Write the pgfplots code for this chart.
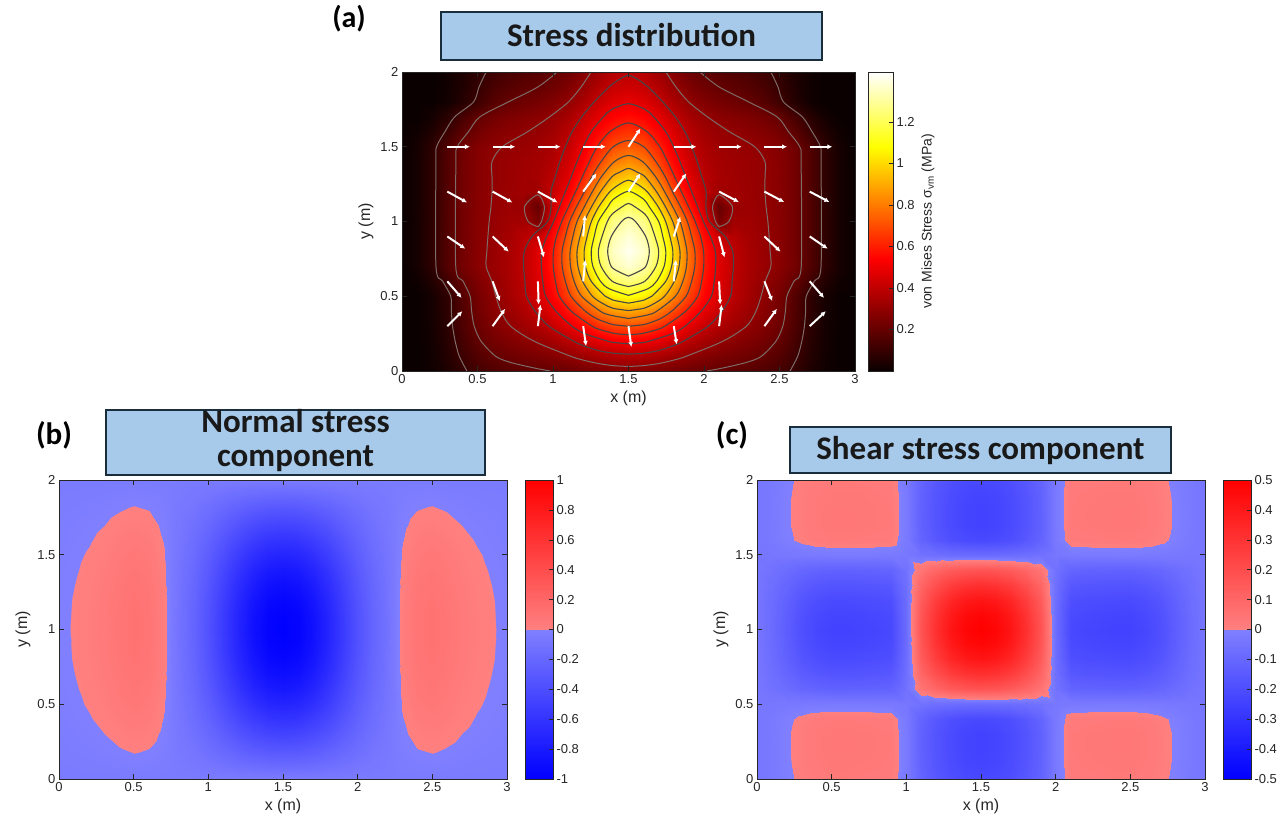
\documentclass[border=0pt]{standalone}
\usepackage{pgfplots}
\pgfplotsset{compat=1.18}
\usepackage{pgfplotstable}
\usepackage{fontspec}
\setmainfont{Liberation Sans}
\newfontfamily\titlefont{Carlito}
\usetikzlibrary{arrows.meta}
\definecolor{titlebg}{RGB}{167,201,234}
\definecolor{titleframe}{RGB}{25,45,60}
\definecolor{axgray}{RGB}{38,38,38}
\definecolor{cline}{RGB}{70,70,70}
\definecolor{clineo}{RGB}{125,108,104}
\pgfkeys{/pgf/number format/assume math mode=true}
\pgfplotsset{
 colormap={hotm}{rgb255(0cm)=(10,0,0) rgb255(3cm)=(255,0,0) rgb255(6cm)=(255,255,0) rgb255(8cm)=(255,255,255)},
 colormap={bwsplit}{rgb255(0cm)=(0,0,255) rgb255(10cm)=(128,128,255) rgb255(10.01cm)=(255,128,128) rgb255(20cm)=(255,0,0)},
 panel/.style={scale only axis, width=448pt, height=299pt, xmin=0,xmax=3,ymin=0,ymax=2, enlargelimits=false,
   xtick={0,0.5,1,1.5,2,2.5,3}, ytick={0,0.5,1,1.5,2}, tick align=inside, major tick length=5pt,
   axis line style={draw=axgray, line width=0.8pt}, every tick/.style={draw=axgray, line width=0.8pt},
   tick label style={font=\fontsize{13}{15}\selectfont, text=axgray},
   label style={font=\fontsize{16}{18}\selectfont, text=axgray},
   xlabel={x (m)}, ylabel={y (m)}, axis on top},
 cbax/.style={scale only axis, enlargelimits=false, xmin=0, xmax=1, xtick=\empty, height=299pt,
   ytick pos=right, yticklabel pos=right, tick align=inside, major tick length=4pt,
   axis line style={draw=axgray, line width=0.8pt}, every tick/.style={draw=axgray, line width=0.6pt},
   tick label style={font=\fontsize{13}{15}\selectfont, text=axgray},
   label style={font=\fontsize{14}{16}\selectfont, text=axgray}, axis on top, anchor=south west},
 surfstyle/.style={surf, shader=interp, mesh/rows=21, mesh/cols=31, point meta=explicit},
 cbsurf/.style={surf, shader=interp, mesh/rows=2, mesh/cols=2, point meta=explicit},
 cl/.style={draw=cline, line width=1.1pt, smooth, tension=0.5},
 clo/.style={draw=clineo, line width=1pt, smooth, tension=0.5},
}

\pgfplotstableread[row sep=\\]{x y z\\
0 0 0\\0.1 0 0\\0.2 0 0.014\\0.3 0 0.044\\0.4 0 0.088\\0.5 0 0.128\\0.6 0 0.153\\0.7 0 0.169\\0.8 0 0.180\\0.9 0 0.191\\1 0 0.202\\1.1 0 0.216\\1.2 0 0.232\\1.3 0 0.248\\1.4 0 0.259\\1.5 0 0.263\\1.6 0 0.259\\1.7 0 0.248\\1.8 0 0.232\\1.9 0 0.216\\2 0 0.202\\2.1 0 0.191\\2.2 0 0.180\\2.3 0 0.169\\2.4 0 0.153\\2.5 0 0.128\\2.6 0 0.088\\2.7 0 0.044\\2.8 0 0.014\\2.9 0 0\\3 0 0\\
0 0.1 0\\0.1 0.1 0\\0.2 0.1 0.018\\0.3 0.1 0.056\\0.4 0.1 0.112\\0.5 0.1 0.162\\0.6 0.1 0.196\\0.7 0.1 0.218\\0.8 0.1 0.234\\0.9 0.1 0.251\\1 0.1 0.270\\1.1 0.1 0.296\\1.2 0.1 0.325\\1.3 0.1 0.353\\1.4 0.1 0.373\\1.5 0.1 0.381\\1.6 0.1 0.373\\1.7 0.1 0.353\\1.8 0.1 0.325\\1.9 0.1 0.296\\2 0.1 0.270\\2.1 0.1 0.251\\2.2 0.1 0.234\\2.3 0.1 0.218\\2.4 0.1 0.196\\2.5 0.1 0.162\\2.6 0.1 0.112\\2.7 0.1 0.056\\2.8 0.1 0.018\\2.9 0.1 0\\3 0.1 0\\
0 0.2 0\\0.1 0.2 0\\0.2 0.2 0.021\\0.3 0.2 0.066\\0.4 0.2 0.132\\0.5 0.2 0.191\\0.6 0.2 0.230\\0.7 0.2 0.258\\0.8 0.2 0.281\\0.9 0.2 0.307\\1 0.2 0.340\\1.1 0.2 0.383\\1.2 0.2 0.432\\1.3 0.2 0.479\\1.4 0.2 0.513\\1.5 0.2 0.526\\1.6 0.2 0.513\\1.7 0.2 0.479\\1.8 0.2 0.432\\1.9 0.2 0.383\\2 0.2 0.340\\2.1 0.2 0.307\\2.2 0.2 0.281\\2.3 0.2 0.258\\2.4 0.2 0.230\\2.5 0.2 0.191\\2.6 0.2 0.132\\2.7 0.2 0.066\\2.8 0.2 0.021\\2.9 0.2 0\\3 0.2 0\\
0 0.3 0\\0.1 0.3 0\\0.2 0.3 0.024\\0.3 0.3 0.074\\0.4 0.3 0.148\\0.5 0.3 0.215\\0.6 0.3 0.261\\0.7 0.3 0.294\\0.8 0.3 0.325\\0.9 0.3 0.364\\1 0.3 0.414\\1.1 0.3 0.481\\1.2 0.3 0.557\\1.3 0.3 0.630\\1.4 0.3 0.682\\1.5 0.3 0.702\\1.6 0.3 0.682\\1.7 0.3 0.630\\1.8 0.3 0.557\\1.9 0.3 0.481\\2 0.3 0.414\\2.1 0.3 0.364\\2.2 0.3 0.325\\2.3 0.3 0.294\\2.4 0.3 0.261\\2.5 0.3 0.215\\2.6 0.3 0.148\\2.7 0.3 0.074\\2.8 0.3 0.024\\2.9 0.3 0\\3 0.3 0\\
0 0.4 0\\0.1 0.4 0\\0.2 0.4 0.025\\0.3 0.4 0.079\\0.4 0.4 0.157\\0.5 0.4 0.227\\0.6 0.4 0.278\\0.7 0.4 0.317\\0.8 0.4 0.357\\0.9 0.4 0.410\\1 0.4 0.482\\1.1 0.4 0.577\\1.2 0.4 0.685\\1.3 0.4 0.790\\1.4 0.4 0.865\\1.5 0.4 0.893\\1.6 0.4 0.865\\1.7 0.4 0.790\\1.8 0.4 0.685\\1.9 0.4 0.577\\2 0.4 0.482\\2.1 0.4 0.410\\2.2 0.4 0.357\\2.3 0.4 0.317\\2.4 0.4 0.278\\2.5 0.4 0.227\\2.6 0.4 0.157\\2.7 0.4 0.079\\2.8 0.4 0.025\\2.9 0.4 0\\3 0.4 0\\
0 0.5 0\\0.1 0.5 0\\0.2 0.5 0.026\\0.3 0.5 0.081\\0.4 0.5 0.162\\0.5 0.5 0.236\\0.6 0.5 0.290\\0.7 0.5 0.335\\0.8 0.5 0.384\\0.9 0.5 0.452\\1 0.5 0.547\\1.1 0.5 0.673\\1.2 0.5 0.816\\1.3 0.5 0.954\\1.4 0.5 1.053\\1.5 0.5 1.090\\1.6 0.5 1.053\\1.7 0.5 0.954\\1.8 0.5 0.816\\1.9 0.5 0.673\\2 0.5 0.547\\2.1 0.5 0.452\\2.2 0.5 0.384\\2.3 0.5 0.335\\2.4 0.5 0.290\\2.5 0.5 0.236\\2.6 0.5 0.162\\2.7 0.5 0.081\\2.8 0.5 0.026\\2.9 0.5 0\\3 0.5 0\\
0 0.6 0\\0.1 0.6 0.013\\0.2 0.6 0.053\\0.3 0.6 0.120\\0.4 0.6 0.197\\0.5 0.6 0.258\\0.6 0.6 0.302\\0.7 0.6 0.341\\0.8 0.6 0.390\\0.9 0.6 0.464\\1 0.6 0.575\\1.1 0.6 0.728\\1.2 0.6 0.907\\1.3 0.6 1.082\\1.4 0.6 1.210\\1.5 0.6 1.258\\1.6 0.6 1.210\\1.7 0.6 1.082\\1.8 0.6 0.907\\1.9 0.6 0.728\\2 0.6 0.575\\2.1 0.6 0.464\\2.2 0.6 0.390\\2.3 0.6 0.341\\2.4 0.6 0.302\\2.5 0.6 0.258\\2.6 0.6 0.197\\2.7 0.6 0.120\\2.8 0.6 0.053\\2.9 0.6 0.013\\3 0.6 0\\
0 0.7 0\\0.1 0.7 0.026\\0.2 0.7 0.080\\0.3 0.7 0.160\\0.4 0.7 0.232\\0.5 0.7 0.280\\0.6 0.7 0.315\\0.7 0.7 0.348\\0.8 0.7 0.396\\0.9 0.7 0.472\\1 0.7 0.596\\1.1 0.7 0.767\\1.2 0.7 0.972\\1.3 0.7 1.173\\1.4 0.7 1.322\\1.5 0.7 1.377\\1.6 0.7 1.322\\1.7 0.7 1.173\\1.8 0.7 0.972\\1.9 0.7 0.767\\2 0.7 0.596\\2.1 0.7 0.472\\2.2 0.7 0.396\\2.3 0.7 0.348\\2.4 0.7 0.315\\2.5 0.7 0.280\\2.6 0.7 0.232\\2.7 0.7 0.160\\2.8 0.7 0.080\\2.9 0.7 0.026\\3 0.7 0\\
0 0.8 0\\0.1 0.8 0.026\\0.2 0.8 0.080\\0.3 0.8 0.160\\0.4 0.8 0.231\\0.5 0.8 0.279\\0.6 0.8 0.313\\0.7 0.8 0.345\\0.8 0.8 0.392\\0.9 0.8 0.469\\1 0.8 0.594\\1.1 0.8 0.772\\1.2 0.8 0.988\\1.3 0.8 1.201\\1.4 0.8 1.361\\1.5 0.8 1.420\\1.6 0.8 1.361\\1.7 0.8 1.201\\1.8 0.8 0.988\\1.9 0.8 0.772\\2 0.8 0.594\\2.1 0.8 0.469\\2.2 0.8 0.392\\2.3 0.8 0.345\\2.4 0.8 0.313\\2.5 0.8 0.279\\2.6 0.8 0.231\\2.7 0.8 0.160\\2.8 0.8 0.080\\2.9 0.8 0.026\\3 0.8 0\\
0 0.9 0\\0.1 0.9 0.026\\0.2 0.9 0.080\\0.3 0.9 0.160\\0.4 0.9 0.230\\0.5 0.9 0.278\\0.6 0.9 0.310\\0.7 0.9 0.338\\0.8 0.9 0.378\\0.9 0.9 0.415\\1 0.9 0.561\\1.1 0.9 0.731\\1.2 0.9 0.944\\1.3 0.9 1.159\\1.4 0.9 1.323\\1.5 0.9 1.385\\1.6 0.9 1.323\\1.7 0.9 1.159\\1.8 0.9 0.944\\1.9 0.9 0.731\\2 0.9 0.561\\2.1 0.9 0.415\\2.2 0.9 0.378\\2.3 0.9 0.338\\2.4 0.9 0.310\\2.5 0.9 0.278\\2.6 0.9 0.230\\2.7 0.9 0.160\\2.8 0.9 0.080\\2.9 0.9 0.026\\3 0.9 0\\
0 1 0\\0.1 1 0.026\\0.2 1 0.080\\0.3 1 0.160\\0.4 1 0.230\\0.5 1 0.277\\0.6 1 0.307\\0.7 1 0.330\\0.8 1 0.333\\0.9 1 0.239\\1 1 0.492\\1.1 1 0.679\\1.2 1 0.884\\1.3 1 1.100\\1.4 1 1.266\\1.5 1 1.329\\1.6 1 1.266\\1.7 1 1.100\\1.8 1 0.884\\1.9 1 0.679\\2 1 0.492\\2.1 1 0.239\\2.2 1 0.333\\2.3 1 0.330\\2.4 1 0.307\\2.5 1 0.277\\2.6 1 0.230\\2.7 1 0.160\\2.8 1 0.080\\2.9 1 0.026\\3 1 0\\
0 1.1 0\\0.1 1.1 0.026\\0.2 1.1 0.080\\0.3 1.1 0.160\\0.4 1.1 0.230\\0.5 1.1 0.275\\0.6 1.1 0.303\\0.7 1.1 0.322\\0.8 1.1 0.314\\0.9 1.1 0.202\\1 1.1 0.430\\1.1 1.1 0.594\\1.2 1.1 0.783\\1.3 1.1 0.993\\1.4 1.1 1.161\\1.5 1.1 1.226\\1.6 1.1 1.161\\1.7 1.1 0.993\\1.8 1.1 0.783\\1.9 1.1 0.594\\2 1.1 0.430\\2.1 1.1 0.202\\2.2 1.1 0.314\\2.3 1.1 0.322\\2.4 1.1 0.303\\2.5 1.1 0.275\\2.6 1.1 0.230\\2.7 1.1 0.160\\2.8 1.1 0.080\\2.9 1.1 0.026\\3 1.1 0\\
0 1.2 0\\0.1 1.2 0.026\\0.2 1.2 0.080\\0.3 1.2 0.160\\0.4 1.2 0.230\\0.5 1.2 0.275\\0.6 1.2 0.301\\0.7 1.2 0.318\\0.8 1.2 0.332\\0.9 1.2 0.326\\1 1.2 0.412\\1.1 1.2 0.519\\1.2 1.2 0.682\\1.3 1.2 0.876\\1.4 1.2 1.038\\1.5 1.2 1.102\\1.6 1.2 1.038\\1.7 1.2 0.876\\1.8 1.2 0.682\\1.9 1.2 0.519\\2 1.2 0.412\\2.1 1.2 0.326\\2.2 1.2 0.332\\2.3 1.2 0.318\\2.4 1.2 0.301\\2.5 1.2 0.275\\2.6 1.2 0.230\\2.7 1.2 0.160\\2.8 1.2 0.080\\2.9 1.2 0.026\\3 1.2 0\\
0 1.3 0\\0.1 1.3 0.026\\0.2 1.3 0.080\\0.3 1.3 0.160\\0.4 1.3 0.230\\0.5 1.3 0.275\\0.6 1.3 0.301\\0.7 1.3 0.315\\0.8 1.3 0.328\\0.9 1.3 0.345\\1 1.3 0.387\\1.1 1.3 0.472\\1.2 1.3 0.606\\1.3 1.3 0.771\\1.4 1.3 0.912\\1.5 1.3 0.968\\1.6 1.3 0.912\\1.7 1.3 0.771\\1.8 1.3 0.606\\1.9 1.3 0.472\\2 1.3 0.387\\2.1 1.3 0.345\\2.2 1.3 0.328\\2.3 1.3 0.315\\2.4 1.3 0.301\\2.5 1.3 0.275\\2.6 1.3 0.230\\2.7 1.3 0.160\\2.8 1.3 0.080\\2.9 1.3 0.026\\3 1.3 0\\
0 1.4 0\\0.1 1.4 0.026\\0.2 1.4 0.080\\0.3 1.4 0.160\\0.4 1.4 0.230\\0.5 1.4 0.275\\0.6 1.4 0.301\\0.7 1.4 0.315\\0.8 1.4 0.326\\0.9 1.4 0.338\\1 1.4 0.371\\1.1 1.4 0.436\\1.2 1.4 0.544\\1.3 1.4 0.679\\1.4 1.4 0.797\\1.5 1.4 0.844\\1.6 1.4 0.797\\1.7 1.4 0.679\\1.8 1.4 0.544\\1.9 1.4 0.436\\2 1.4 0.371\\2.1 1.4 0.338\\2.2 1.4 0.326\\2.3 1.4 0.315\\2.4 1.4 0.301\\2.5 1.4 0.275\\2.6 1.4 0.230\\2.7 1.4 0.160\\2.8 1.4 0.080\\2.9 1.4 0.026\\3 1.4 0\\
0 1.5 0\\0.1 1.5 0.025\\0.2 1.5 0.078\\0.3 1.5 0.155\\0.4 1.5 0.223\\0.5 1.5 0.267\\0.6 1.5 0.291\\0.7 1.5 0.305\\0.8 1.5 0.315\\0.9 1.5 0.327\\1 1.5 0.355\\1.1 1.5 0.410\\1.2 1.5 0.499\\1.3 1.5 0.607\\1.4 1.5 0.701\\1.5 1.5 0.738\\1.6 1.5 0.701\\1.7 1.5 0.607\\1.8 1.5 0.499\\1.9 1.5 0.410\\2 1.5 0.355\\2.1 1.5 0.327\\2.2 1.5 0.315\\2.3 1.5 0.305\\2.4 1.5 0.291\\2.5 1.5 0.267\\2.6 1.5 0.223\\2.7 1.5 0.155\\2.8 1.5 0.078\\2.9 1.5 0.025\\3 1.5 0\\
0 1.6 0\\0.1 1.6 0.012\\0.2 1.6 0.049\\0.3 1.6 0.110\\0.4 1.6 0.179\\0.5 1.6 0.232\\0.6 1.6 0.265\\0.7 1.6 0.283\\0.8 1.6 0.296\\0.9 1.6 0.309\\1 1.6 0.334\\1.1 1.6 0.381\\1.2 1.6 0.454\\1.3 1.6 0.543\\1.4 1.6 0.618\\1.5 1.6 0.648\\1.6 1.6 0.618\\1.7 1.6 0.543\\1.8 1.6 0.454\\1.9 1.6 0.381\\2 1.6 0.334\\2.1 1.6 0.309\\2.2 1.6 0.296\\2.3 1.6 0.283\\2.4 1.6 0.265\\2.5 1.6 0.232\\2.6 1.6 0.179\\2.7 1.6 0.110\\2.8 1.6 0.049\\2.9 1.6 0.012\\3 1.6 0\\
0 1.7 0\\0.1 1.7 0\\0.2 1.7 0.022\\0.3 1.7 0.067\\0.4 1.7 0.135\\0.5 1.7 0.194\\0.6 1.7 0.231\\0.7 1.7 0.254\\0.8 1.7 0.268\\0.9 1.7 0.283\\1 1.7 0.305\\1.1 1.7 0.345\\1.2 1.7 0.406\\1.3 1.7 0.480\\1.4 1.7 0.541\\1.5 1.7 0.566\\1.6 1.7 0.541\\1.7 1.7 0.480\\1.8 1.7 0.406\\1.9 1.7 0.345\\2 1.7 0.305\\2.1 1.7 0.283\\2.2 1.7 0.268\\2.3 1.7 0.254\\2.4 1.7 0.231\\2.5 1.7 0.194\\2.6 1.7 0.135\\2.7 1.7 0.067\\2.8 1.7 0.022\\2.9 1.7 0\\3 1.7 0\\
0 1.8 0\\0.1 1.8 0\\0.2 1.8 0\\0.3 1.8 0.018\\0.4 1.8 0.058\\0.5 1.8 0.115\\0.6 1.8 0.166\\0.7 1.8 0.199\\0.8 1.8 0.220\\0.9 1.8 0.238\\1 1.8 0.263\\1.1 1.8 0.299\\1.2 1.8 0.353\\1.3 1.8 0.417\\1.4 1.8 0.470\\1.5 1.8 0.491\\1.6 1.8 0.470\\1.7 1.8 0.417\\1.8 1.8 0.353\\1.9 1.8 0.299\\2 1.8 0.263\\2.1 1.8 0.238\\2.2 1.8 0.220\\2.3 1.8 0.199\\2.4 1.8 0.166\\2.5 1.8 0.115\\2.6 1.8 0.058\\2.7 1.8 0.018\\2.8 1.8 0\\2.9 1.8 0\\3 1.8 0\\
0 1.9 0\\0.1 1.9 0\\0.2 1.9 0\\0.3 1.9 0.015\\0.4 1.9 0.048\\0.5 1.9 0.096\\0.6 1.9 0.138\\0.7 1.9 0.166\\0.8 1.9 0.184\\0.9 1.9 0.200\\1 1.9 0.223\\1.1 1.9 0.257\\1.2 1.9 0.307\\1.3 1.9 0.366\\1.4 1.9 0.414\\1.5 1.9 0.433\\1.6 1.9 0.414\\1.7 1.9 0.366\\1.8 1.9 0.307\\1.9 1.9 0.257\\2 1.9 0.223\\2.1 1.9 0.200\\2.2 1.9 0.184\\2.3 1.9 0.166\\2.4 1.9 0.138\\2.5 1.9 0.096\\2.6 1.9 0.048\\2.7 1.9 0.015\\2.8 1.9 0\\2.9 1.9 0\\3 1.9 0\\
0 2 0\\0.1 2 0\\0.2 2 0\\0.3 2 0.013\\0.4 2 0.040\\0.5 2 0.080\\0.6 2 0.115\\0.7 2 0.139\\0.8 2 0.154\\0.9 2 0.169\\1 2 0.191\\1.1 2 0.223\\1.2 2 0.271\\1.3 2 0.327\\1.4 2 0.372\\1.5 2 0.390\\1.6 2 0.372\\1.7 2 0.327\\1.8 2 0.271\\1.9 2 0.223\\2 2 0.191\\2.1 2 0.169\\2.2 2 0.154\\2.3 2 0.139\\2.4 2 0.115\\2.5 2 0.080\\2.6 2 0.040\\2.7 2 0.013\\2.8 2 0\\2.9 2 0\\3 2 0\\
}\tabA

\pgfplotstableread[row sep=\\]{x y z\\
0 0 -0.04\\0.1 0 -0.04\\0.2 0 -0.04\\0.3 0 -0.04\\0.4 0 -0.04\\0.5 0 -0.04\\0.6 0 -0.04\\0.7 0 -0.04\\0.8 0 -0.04\\0.9 0 -0.04\\1 0 -0.04\\1.1 0 -0.04\\1.2 0 -0.04\\1.3 0 -0.04\\1.4 0 -0.04\\1.5 0 -0.04\\1.6 0 -0.04\\1.7 0 -0.04\\1.8 0 -0.04\\1.9 0 -0.04\\2 0 -0.04\\2.1 0 -0.04\\2.2 0 -0.04\\2.3 0 -0.04\\2.4 0 -0.04\\2.5 0 -0.04\\2.6 0 -0.04\\2.7 0 -0.04\\2.8 0 -0.04\\2.9 0 -0.04\\3 0 -0.04\\
0 0.1 -0.036\\0.1 0.1 -0.033\\0.2 0.1 -0.030\\0.3 0.1 -0.026\\0.4 0.1 -0.021\\0.5 0.1 -0.016\\0.6 0.1 -0.020\\0.7 0.1 -0.030\\0.8 0.1 -0.049\\0.9 0.1 -0.067\\1 0.1 -0.090\\1.1 0.1 -0.118\\1.2 0.1 -0.146\\1.3 0.1 -0.169\\1.4 0.1 -0.185\\1.5 0.1 -0.190\\1.6 0.1 -0.185\\1.7 0.1 -0.169\\1.8 0.1 -0.146\\1.9 0.1 -0.118\\2 0.1 -0.090\\2.1 0.1 -0.067\\2.2 0.1 -0.049\\2.3 0.1 -0.030\\2.4 0.1 -0.020\\2.5 0.1 -0.016\\2.6 0.1 -0.021\\2.7 0.1 -0.026\\2.8 0.1 -0.030\\2.9 0.1 -0.033\\3 0.1 -0.036\\
0 0.2 -0.031\\0.1 0.2 -0.026\\0.2 0.2 -0.021\\0.3 0.2 -0.013\\0.4 0.2 -0.002\\0.5 0.2 0.007\\0.6 0.2 0.000\\0.7 0.2 -0.021\\0.8 0.2 -0.059\\0.9 0.2 -0.093\\1 0.2 -0.139\\1.1 0.2 -0.195\\1.2 0.2 -0.250\\1.3 0.2 -0.296\\1.4 0.2 -0.327\\1.5 0.2 -0.337\\1.6 0.2 -0.327\\1.7 0.2 -0.296\\1.8 0.2 -0.250\\1.9 0.2 -0.195\\2 0.2 -0.139\\2.1 0.2 -0.093\\2.2 0.2 -0.059\\2.3 0.2 -0.021\\2.4 0.2 0.000\\2.5 0.2 0.007\\2.6 0.2 -0.002\\2.7 0.2 -0.013\\2.8 0.2 -0.021\\2.9 0.2 -0.026\\3 0.2 -0.031\\
0 0.3 -0.027\\0.1 0.3 -0.020\\0.2 0.3 -0.011\\0.3 0.3 0.000\\0.4 0.3 0.016\\0.5 0.3 0.029\\0.6 0.3 0.019\\0.7 0.3 -0.011\\0.8 0.3 -0.067\\0.9 0.3 -0.117\\1 0.3 -0.185\\1.1 0.3 -0.267\\1.2 0.3 -0.349\\1.3 0.3 -0.417\\1.4 0.3 -0.462\\1.5 0.3 -0.476\\1.6 0.3 -0.462\\1.7 0.3 -0.417\\1.8 0.3 -0.349\\1.9 0.3 -0.267\\2 0.3 -0.185\\2.1 0.3 -0.117\\2.2 0.3 -0.067\\2.3 0.3 -0.011\\2.4 0.3 0.019\\2.5 0.3 0.029\\2.6 0.3 0.016\\2.7 0.3 0.000\\2.8 0.3 -0.011\\2.9 0.3 -0.020\\3 0.3 -0.027\\
0 0.4 -0.024\\0.1 0.4 -0.014\\0.2 0.4 -0.003\\0.3 0.4 0.012\\0.4 0.4 0.033\\0.5 0.4 0.049\\0.6 0.4 0.036\\0.7 0.4 -0.003\\0.8 0.4 -0.075\\0.9 0.4 -0.140\\1 0.4 -0.228\\1.1 0.4 -0.334\\1.2 0.4 -0.440\\1.3 0.4 -0.528\\1.4 0.4 -0.587\\1.5 0.4 -0.604\\1.6 0.4 -0.587\\1.7 0.4 -0.528\\1.8 0.4 -0.440\\1.9 0.4 -0.334\\2 0.4 -0.228\\2.1 0.4 -0.140\\2.2 0.4 -0.075\\2.3 0.4 -0.003\\2.4 0.4 0.036\\2.5 0.4 0.049\\2.6 0.4 0.033\\2.7 0.4 0.012\\2.8 0.4 -0.003\\2.9 0.4 -0.014\\3 0.4 -0.024\\
0 0.5 -0.020\\0.1 0.5 -0.008\\0.2 0.5 0.005\\0.3 0.5 0.022\\0.4 0.5 0.048\\0.5 0.5 0.068\\0.6 0.5 0.052\\0.7 0.5 0.005\\0.8 0.5 -0.082\\0.9 0.5 -0.160\\1 0.5 -0.266\\1.1 0.5 -0.394\\1.2 0.5 -0.521\\1.3 0.5 -0.627\\1.4 0.5 -0.698\\1.5 0.5 -0.719\\1.6 0.5 -0.698\\1.7 0.5 -0.627\\1.8 0.5 -0.521\\1.9 0.5 -0.394\\2 0.5 -0.266\\2.1 0.5 -0.160\\2.2 0.5 -0.082\\2.3 0.5 0.005\\2.4 0.5 0.052\\2.5 0.5 0.068\\2.6 0.5 0.048\\2.7 0.5 0.022\\2.8 0.5 0.005\\2.9 0.5 -0.008\\3 0.5 -0.020\\
0 0.6 -0.017\\0.1 0.6 -0.004\\0.2 0.6 0.011\\0.3 0.6 0.031\\0.4 0.6 0.060\\0.5 0.6 0.083\\0.6 0.6 0.065\\0.7 0.6 0.011\\0.8 0.6 -0.089\\0.9 0.6 -0.178\\1 0.6 -0.299\\1.1 0.6 -0.445\\1.2 0.6 -0.590\\1.3 0.6 -0.711\\1.4 0.6 -0.792\\1.5 0.6 -0.817\\1.6 0.6 -0.792\\1.7 0.6 -0.711\\1.8 0.6 -0.590\\1.9 0.6 -0.445\\2 0.6 -0.299\\2.1 0.6 -0.178\\2.2 0.6 -0.089\\2.3 0.6 0.011\\2.4 0.6 0.065\\2.5 0.6 0.083\\2.6 0.6 0.060\\2.7 0.6 0.031\\2.8 0.6 0.011\\2.9 0.6 -0.004\\3 0.6 -0.017\\
0 0.7 -0.015\\0.1 0.7 0.000\\0.2 0.7 0.016\\0.3 0.7 0.038\\0.4 0.7 0.071\\0.5 0.7 0.095\\0.6 0.7 0.076\\0.7 0.7 0.016\\0.8 0.7 -0.094\\0.9 0.7 -0.192\\1 0.7 -0.325\\1.1 0.7 -0.486\\1.2 0.7 -0.646\\1.3 0.7 -0.780\\1.4 0.7 -0.869\\1.5 0.7 -0.895\\1.6 0.7 -0.869\\1.7 0.7 -0.780\\1.8 0.7 -0.646\\1.9 0.7 -0.486\\2 0.7 -0.325\\2.1 0.7 -0.192\\2.2 0.7 -0.094\\2.3 0.7 0.016\\2.4 0.7 0.076\\2.5 0.7 0.095\\2.6 0.7 0.071\\2.7 0.7 0.038\\2.8 0.7 0.016\\2.9 0.7 0.000\\3 0.7 -0.015\\
0 0.8 -0.013\\0.1 0.8 0.003\\0.2 0.8 0.020\\0.3 0.8 0.044\\0.4 0.8 0.078\\0.5 0.8 0.105\\0.6 0.8 0.084\\0.7 0.8 0.020\\0.8 0.8 -0.097\\0.9 0.8 -0.202\\1 0.8 -0.344\\1.1 0.8 -0.516\\1.2 0.8 -0.687\\1.3 0.8 -0.829\\1.4 0.8 -0.924\\1.5 0.8 -0.953\\1.6 0.8 -0.924\\1.7 0.8 -0.829\\1.8 0.8 -0.687\\1.9 0.8 -0.516\\2 0.8 -0.344\\2.1 0.8 -0.202\\2.2 0.8 -0.097\\2.3 0.8 0.020\\2.4 0.8 0.084\\2.5 0.8 0.105\\2.6 0.8 0.078\\2.7 0.8 0.044\\2.8 0.8 0.020\\2.9 0.8 0.003\\3 0.8 -0.013\\
0 0.9 -0.012\\0.1 0.9 0.004\\0.2 0.9 0.022\\0.3 0.9 0.047\\0.4 0.9 0.082\\0.5 0.9 0.110\\0.6 0.9 0.088\\0.7 0.9 0.022\\0.8 0.9 -0.099\\0.9 0.9 -0.208\\1 0.9 -0.356\\1.1 0.9 -0.534\\1.2 0.9 -0.712\\1.3 0.9 -0.860\\1.4 0.9 -0.959\\1.5 0.9 -0.988\\1.6 0.9 -0.959\\1.7 0.9 -0.860\\1.8 0.9 -0.712\\1.9 0.9 -0.534\\2 0.9 -0.356\\2.1 0.9 -0.208\\2.2 0.9 -0.099\\2.3 0.9 0.022\\2.4 0.9 0.088\\2.5 0.9 0.110\\2.6 0.9 0.082\\2.7 0.9 0.047\\2.8 0.9 0.022\\2.9 0.9 0.004\\3 0.9 -0.012\\
0 1 -0.012\\0.1 1 0.005\\0.2 1 0.023\\0.3 1 0.048\\0.4 1 0.084\\0.5 1 0.112\\0.6 1 0.090\\0.7 1 0.023\\0.8 1 -0.100\\0.9 1 -0.210\\1 1 -0.360\\1.1 1 -0.540\\1.2 1 -0.720\\1.3 1 -0.870\\1.4 1 -0.970\\1.5 1 -1.000\\1.6 1 -0.970\\1.7 1 -0.870\\1.8 1 -0.720\\1.9 1 -0.540\\2 1 -0.360\\2.1 1 -0.210\\2.2 1 -0.100\\2.3 1 0.023\\2.4 1 0.090\\2.5 1 0.112\\2.6 1 0.084\\2.7 1 0.048\\2.8 1 0.023\\2.9 1 0.005\\3 1 -0.012\\
0 1.1 -0.012\\0.1 1.1 0.004\\0.2 1.1 0.022\\0.3 1.1 0.047\\0.4 1.1 0.082\\0.5 1.1 0.110\\0.6 1.1 0.088\\0.7 1.1 0.022\\0.8 1.1 -0.099\\0.9 1.1 -0.208\\1 1.1 -0.356\\1.1 1.1 -0.534\\1.2 1.1 -0.712\\1.3 1.1 -0.860\\1.4 1.1 -0.959\\1.5 1.1 -0.988\\1.6 1.1 -0.959\\1.7 1.1 -0.860\\1.8 1.1 -0.712\\1.9 1.1 -0.534\\2 1.1 -0.356\\2.1 1.1 -0.208\\2.2 1.1 -0.099\\2.3 1.1 0.022\\2.4 1.1 0.088\\2.5 1.1 0.110\\2.6 1.1 0.082\\2.7 1.1 0.047\\2.8 1.1 0.022\\2.9 1.1 0.004\\3 1.1 -0.012\\
0 1.2 -0.013\\0.1 1.2 0.003\\0.2 1.2 0.020\\0.3 1.2 0.044\\0.4 1.2 0.078\\0.5 1.2 0.105\\0.6 1.2 0.084\\0.7 1.2 0.020\\0.8 1.2 -0.097\\0.9 1.2 -0.202\\1 1.2 -0.344\\1.1 1.2 -0.516\\1.2 1.2 -0.687\\1.3 1.2 -0.829\\1.4 1.2 -0.924\\1.5 1.2 -0.953\\1.6 1.2 -0.924\\1.7 1.2 -0.829\\1.8 1.2 -0.687\\1.9 1.2 -0.516\\2 1.2 -0.344\\2.1 1.2 -0.202\\2.2 1.2 -0.097\\2.3 1.2 0.020\\2.4 1.2 0.084\\2.5 1.2 0.105\\2.6 1.2 0.078\\2.7 1.2 0.044\\2.8 1.2 0.020\\2.9 1.2 0.003\\3 1.2 -0.013\\
0 1.3 -0.015\\0.1 1.3 0.000\\0.2 1.3 0.016\\0.3 1.3 0.038\\0.4 1.3 0.071\\0.5 1.3 0.095\\0.6 1.3 0.076\\0.7 1.3 0.016\\0.8 1.3 -0.094\\0.9 1.3 -0.192\\1 1.3 -0.325\\1.1 1.3 -0.486\\1.2 1.3 -0.646\\1.3 1.3 -0.780\\1.4 1.3 -0.869\\1.5 1.3 -0.895\\1.6 1.3 -0.869\\1.7 1.3 -0.780\\1.8 1.3 -0.646\\1.9 1.3 -0.486\\2 1.3 -0.325\\2.1 1.3 -0.192\\2.2 1.3 -0.094\\2.3 1.3 0.016\\2.4 1.3 0.076\\2.5 1.3 0.095\\2.6 1.3 0.071\\2.7 1.3 0.038\\2.8 1.3 0.016\\2.9 1.3 0.000\\3 1.3 -0.015\\
0 1.4 -0.017\\0.1 1.4 -0.004\\0.2 1.4 0.011\\0.3 1.4 0.031\\0.4 1.4 0.060\\0.5 1.4 0.083\\0.6 1.4 0.065\\0.7 1.4 0.011\\0.8 1.4 -0.089\\0.9 1.4 -0.178\\1 1.4 -0.299\\1.1 1.4 -0.445\\1.2 1.4 -0.590\\1.3 1.4 -0.711\\1.4 1.4 -0.792\\1.5 1.4 -0.817\\1.6 1.4 -0.792\\1.7 1.4 -0.711\\1.8 1.4 -0.590\\1.9 1.4 -0.445\\2 1.4 -0.299\\2.1 1.4 -0.178\\2.2 1.4 -0.089\\2.3 1.4 0.011\\2.4 1.4 0.065\\2.5 1.4 0.083\\2.6 1.4 0.060\\2.7 1.4 0.031\\2.8 1.4 0.011\\2.9 1.4 -0.004\\3 1.4 -0.017\\
0 1.5 -0.020\\0.1 1.5 -0.008\\0.2 1.5 0.005\\0.3 1.5 0.022\\0.4 1.5 0.048\\0.5 1.5 0.068\\0.6 1.5 0.052\\0.7 1.5 0.005\\0.8 1.5 -0.082\\0.9 1.5 -0.160\\1 1.5 -0.266\\1.1 1.5 -0.394\\1.2 1.5 -0.521\\1.3 1.5 -0.627\\1.4 1.5 -0.698\\1.5 1.5 -0.719\\1.6 1.5 -0.698\\1.7 1.5 -0.627\\1.8 1.5 -0.521\\1.9 1.5 -0.394\\2 1.5 -0.266\\2.1 1.5 -0.160\\2.2 1.5 -0.082\\2.3 1.5 0.005\\2.4 1.5 0.052\\2.5 1.5 0.068\\2.6 1.5 0.048\\2.7 1.5 0.022\\2.8 1.5 0.005\\2.9 1.5 -0.008\\3 1.5 -0.020\\
0 1.6 -0.024\\0.1 1.6 -0.014\\0.2 1.6 -0.003\\0.3 1.6 0.012\\0.4 1.6 0.033\\0.5 1.6 0.049\\0.6 1.6 0.036\\0.7 1.6 -0.003\\0.8 1.6 -0.075\\0.9 1.6 -0.140\\1 1.6 -0.228\\1.1 1.6 -0.334\\1.2 1.6 -0.440\\1.3 1.6 -0.528\\1.4 1.6 -0.587\\1.5 1.6 -0.604\\1.6 1.6 -0.587\\1.7 1.6 -0.528\\1.8 1.6 -0.440\\1.9 1.6 -0.334\\2 1.6 -0.228\\2.1 1.6 -0.140\\2.2 1.6 -0.075\\2.3 1.6 -0.003\\2.4 1.6 0.036\\2.5 1.6 0.049\\2.6 1.6 0.033\\2.7 1.6 0.012\\2.8 1.6 -0.003\\2.9 1.6 -0.014\\3 1.6 -0.024\\
0 1.7 -0.027\\0.1 1.7 -0.020\\0.2 1.7 -0.011\\0.3 1.7 0.000\\0.4 1.7 0.016\\0.5 1.7 0.029\\0.6 1.7 0.019\\0.7 1.7 -0.011\\0.8 1.7 -0.067\\0.9 1.7 -0.117\\1 1.7 -0.185\\1.1 1.7 -0.267\\1.2 1.7 -0.349\\1.3 1.7 -0.417\\1.4 1.7 -0.462\\1.5 1.7 -0.476\\1.6 1.7 -0.462\\1.7 1.7 -0.417\\1.8 1.7 -0.349\\1.9 1.7 -0.267\\2 1.7 -0.185\\2.1 1.7 -0.117\\2.2 1.7 -0.067\\2.3 1.7 -0.011\\2.4 1.7 0.019\\2.5 1.7 0.029\\2.6 1.7 0.016\\2.7 1.7 0.000\\2.8 1.7 -0.011\\2.9 1.7 -0.020\\3 1.7 -0.027\\
0 1.8 -0.031\\0.1 1.8 -0.026\\0.2 1.8 -0.021\\0.3 1.8 -0.013\\0.4 1.8 -0.002\\0.5 1.8 0.007\\0.6 1.8 0.000\\0.7 1.8 -0.021\\0.8 1.8 -0.059\\0.9 1.8 -0.093\\1 1.8 -0.139\\1.1 1.8 -0.195\\1.2 1.8 -0.250\\1.3 1.8 -0.296\\1.4 1.8 -0.327\\1.5 1.8 -0.337\\1.6 1.8 -0.327\\1.7 1.8 -0.296\\1.8 1.8 -0.250\\1.9 1.8 -0.195\\2 1.8 -0.139\\2.1 1.8 -0.093\\2.2 1.8 -0.059\\2.3 1.8 -0.021\\2.4 1.8 0.000\\2.5 1.8 0.007\\2.6 1.8 -0.002\\2.7 1.8 -0.013\\2.8 1.8 -0.021\\2.9 1.8 -0.026\\3 1.8 -0.031\\
0 1.9 -0.036\\0.1 1.9 -0.033\\0.2 1.9 -0.030\\0.3 1.9 -0.026\\0.4 1.9 -0.021\\0.5 1.9 -0.016\\0.6 1.9 -0.020\\0.7 1.9 -0.030\\0.8 1.9 -0.049\\0.9 1.9 -0.067\\1 1.9 -0.090\\1.1 1.9 -0.118\\1.2 1.9 -0.146\\1.3 1.9 -0.169\\1.4 1.9 -0.185\\1.5 1.9 -0.190\\1.6 1.9 -0.185\\1.7 1.9 -0.169\\1.8 1.9 -0.146\\1.9 1.9 -0.118\\2 1.9 -0.090\\2.1 1.9 -0.067\\2.2 1.9 -0.049\\2.3 1.9 -0.030\\2.4 1.9 -0.020\\2.5 1.9 -0.016\\2.6 1.9 -0.021\\2.7 1.9 -0.026\\2.8 1.9 -0.030\\2.9 1.9 -0.033\\3 1.9 -0.036\\
0 2 -0.04\\0.1 2 -0.04\\0.2 2 -0.04\\0.3 2 -0.04\\0.4 2 -0.04\\0.5 2 -0.04\\0.6 2 -0.04\\0.7 2 -0.04\\0.8 2 -0.04\\0.9 2 -0.04\\1 2 -0.04\\1.1 2 -0.04\\1.2 2 -0.04\\1.3 2 -0.04\\1.4 2 -0.04\\1.5 2 -0.04\\1.6 2 -0.04\\1.7 2 -0.04\\1.8 2 -0.04\\1.9 2 -0.04\\2 2 -0.04\\2.1 2 -0.04\\2.2 2 -0.04\\2.3 2 -0.04\\2.4 2 -0.04\\2.5 2 -0.04\\2.6 2 -0.04\\2.7 2 -0.04\\2.8 2 -0.04\\2.9 2 -0.04\\3 2 -0.04\\
}\tabB

\pgfplotstableread[row sep=\\]{x y z\\
0 0 -0.040\\0.1 0 -0.026\\0.2 0 -0.008\\0.3 0 0.010\\0.4 0 0.021\\0.5 0 0.026\\0.6 0 0.026\\0.7 0 0.024\\0.8 0 0.022\\0.9 0 0.019\\1 0 -0.026\\1.1 0 -0.111\\1.2 0 -0.158\\1.3 0 -0.192\\1.4 0 -0.211\\1.5 0 -0.218\\1.6 0 -0.211\\1.7 0 -0.192\\1.8 0 -0.158\\1.9 0 -0.111\\2 0 -0.026\\2.1 0 0.019\\2.2 0 0.022\\2.3 0 0.024\\2.4 0 0.026\\2.5 0 0.026\\2.6 0 0.021\\2.7 0 0.010\\2.8 0 -0.008\\2.9 0 -0.026\\3 0 -0.040\\
0 0.1 -0.040\\0.1 0.1 -0.024\\0.2 0.1 -0.005\\0.3 0.1 0.014\\0.4 0.1 0.026\\0.5 0.1 0.032\\0.6 0.1 0.032\\0.7 0.1 0.030\\0.8 0.1 0.028\\0.9 0.1 0.024\\1 0.1 -0.024\\1.1 0.1 -0.118\\1.2 0.1 -0.168\\1.3 0.1 -0.205\\1.4 0.1 -0.227\\1.5 0.1 -0.234\\1.6 0.1 -0.227\\1.7 0.1 -0.205\\1.8 0.1 -0.168\\1.9 0.1 -0.118\\2 0.1 -0.024\\2.1 0.1 0.024\\2.2 0.1 0.028\\2.3 0.1 0.030\\2.4 0.1 0.032\\2.5 0.1 0.032\\2.6 0.1 0.026\\2.7 0.1 0.014\\2.8 0.1 -0.005\\2.9 0.1 -0.024\\3 0.1 -0.040\\
0 0.2 -0.040\\0.1 0.2 -0.024\\0.2 0.2 -0.004\\0.3 0.2 0.016\\0.4 0.2 0.028\\0.5 0.2 0.034\\0.6 0.2 0.034\\0.7 0.2 0.032\\0.8 0.2 0.030\\0.9 0.2 0.026\\1 0.2 -0.024\\1.1 0.2 -0.120\\1.2 0.2 -0.172\\1.3 0.2 -0.210\\1.4 0.2 -0.232\\1.5 0.2 -0.240\\1.6 0.2 -0.232\\1.7 0.2 -0.210\\1.8 0.2 -0.172\\1.9 0.2 -0.120\\2 0.2 -0.024\\2.1 0.2 0.026\\2.2 0.2 0.030\\2.3 0.2 0.032\\2.4 0.2 0.034\\2.5 0.2 0.034\\2.6 0.2 0.028\\2.7 0.2 0.016\\2.8 0.2 -0.004\\2.9 0.2 -0.024\\3 0.2 -0.040\\
0 0.3 -0.040\\0.1 0.3 -0.024\\0.2 0.3 -0.004\\0.3 0.3 0.016\\0.4 0.3 0.028\\0.5 0.3 0.034\\0.6 0.3 0.034\\0.7 0.3 0.032\\0.8 0.3 0.030\\0.9 0.3 0.026\\1 0.3 -0.024\\1.1 0.3 -0.120\\1.2 0.3 -0.172\\1.3 0.3 -0.210\\1.4 0.3 -0.232\\1.5 0.3 -0.240\\1.6 0.3 -0.232\\1.7 0.3 -0.210\\1.8 0.3 -0.172\\1.9 0.3 -0.120\\2 0.3 -0.024\\2.1 0.3 0.026\\2.2 0.3 0.030\\2.3 0.3 0.032\\2.4 0.3 0.034\\2.5 0.3 0.034\\2.6 0.3 0.028\\2.7 0.3 0.016\\2.8 0.3 -0.004\\2.9 0.3 -0.024\\3 0.3 -0.040\\
0 0.4 -0.040\\0.1 0.4 -0.026\\0.2 0.4 -0.008\\0.3 0.4 0.010\\0.4 0.4 0.021\\0.5 0.4 0.026\\0.6 0.4 0.026\\0.7 0.4 0.024\\0.8 0.4 0.022\\0.9 0.4 0.019\\1 0.4 -0.026\\1.1 0.4 -0.111\\1.2 0.4 -0.158\\1.3 0.4 -0.192\\1.4 0.4 -0.211\\1.5 0.4 -0.218\\1.6 0.4 -0.211\\1.7 0.4 -0.192\\1.8 0.4 -0.158\\1.9 0.4 -0.111\\2 0.4 -0.026\\2.1 0.4 0.019\\2.2 0.4 0.022\\2.3 0.4 0.024\\2.4 0.4 0.026\\2.5 0.4 0.026\\2.6 0.4 0.021\\2.7 0.4 0.010\\2.8 0.4 -0.008\\2.9 0.4 -0.026\\3 0.4 -0.040\\
0 0.5 -0.040\\0.1 0.5 -0.037\\0.2 0.5 -0.032\\0.3 0.5 -0.028\\0.4 0.5 -0.025\\0.5 0.5 -0.024\\0.6 0.5 -0.024\\0.7 0.5 -0.024\\0.8 0.5 -0.025\\0.9 0.5 -0.026\\1 0.5 -0.037\\1.1 0.5 -0.057\\1.2 0.5 -0.069\\1.3 0.5 -0.077\\1.4 0.5 -0.081\\1.5 0.5 -0.083\\1.6 0.5 -0.081\\1.7 0.5 -0.077\\1.8 0.5 -0.069\\1.9 0.5 -0.057\\2 0.5 -0.037\\2.1 0.5 -0.026\\2.2 0.5 -0.025\\2.3 0.5 -0.024\\2.4 0.5 -0.024\\2.5 0.5 -0.024\\2.6 0.5 -0.025\\2.7 0.5 -0.028\\2.8 0.5 -0.032\\2.9 0.5 -0.037\\3 0.5 -0.040\\
0 0.6 -0.040\\0.1 0.6 -0.057\\0.2 0.6 -0.079\\0.3 0.6 -0.100\\0.4 0.6 -0.113\\0.5 0.6 -0.120\\0.6 0.6 -0.120\\0.7 0.6 -0.118\\0.8 0.6 -0.116\\0.9 0.6 -0.111\\1 0.6 -0.057\\1.1 0.6 0.046\\1.2 0.6 0.103\\1.3 0.6 0.144\\1.4 0.6 0.167\\1.5 0.6 0.176\\1.6 0.6 0.167\\1.7 0.6 0.144\\1.8 0.6 0.103\\1.9 0.6 0.046\\2 0.6 -0.057\\2.1 0.6 -0.111\\2.2 0.6 -0.116\\2.3 0.6 -0.118\\2.4 0.6 -0.120\\2.5 0.6 -0.120\\2.6 0.6 -0.113\\2.7 0.6 -0.100\\2.8 0.6 -0.079\\2.9 0.6 -0.057\\3 0.6 -0.040\\
0 0.7 -0.040\\0.1 0.7 -0.069\\0.2 0.7 -0.104\\0.3 0.7 -0.140\\0.4 0.7 -0.161\\0.5 0.7 -0.172\\0.6 0.7 -0.172\\0.7 0.7 -0.168\\0.8 0.7 -0.165\\0.9 0.7 -0.158\\1 0.7 -0.069\\1.1 0.7 0.103\\1.2 0.7 0.195\\1.3 0.7 0.263\\1.4 0.7 0.302\\1.5 0.7 0.316\\1.6 0.7 0.302\\1.7 0.7 0.263\\1.8 0.7 0.195\\1.9 0.7 0.103\\2 0.7 -0.069\\2.1 0.7 -0.158\\2.2 0.7 -0.165\\2.3 0.7 -0.168\\2.4 0.7 -0.172\\2.5 0.7 -0.172\\2.6 0.7 -0.161\\2.7 0.7 -0.140\\2.8 0.7 -0.104\\2.9 0.7 -0.069\\3 0.7 -0.040\\
0 0.8 -0.040\\0.1 0.8 -0.077\\0.2 0.8 -0.123\\0.3 0.8 -0.169\\0.4 0.8 -0.196\\0.5 0.8 -0.210\\0.6 0.8 -0.210\\0.7 0.8 -0.205\\0.8 0.8 -0.201\\0.9 0.8 -0.192\\1 0.8 -0.077\\1.1 0.8 0.144\\1.2 0.8 0.263\\1.3 0.8 0.350\\1.4 0.8 0.401\\1.5 0.8 0.419\\1.6 0.8 0.401\\1.7 0.8 0.350\\1.8 0.8 0.263\\1.9 0.8 0.144\\2 0.8 -0.077\\2.1 0.8 -0.192\\2.2 0.8 -0.201\\2.3 0.8 -0.205\\2.4 0.8 -0.210\\2.5 0.8 -0.210\\2.6 0.8 -0.196\\2.7 0.8 -0.169\\2.8 0.8 -0.123\\2.9 0.8 -0.077\\3 0.8 -0.040\\
0 0.9 -0.040\\0.1 0.9 -0.081\\0.2 0.9 -0.133\\0.3 0.9 -0.185\\0.4 0.9 -0.216\\0.5 0.9 -0.232\\0.6 0.9 -0.232\\0.7 0.9 -0.227\\0.8 0.9 -0.221\\0.9 0.9 -0.211\\1 0.9 -0.081\\1.1 0.9 0.167\\1.2 0.9 0.302\\1.3 0.9 0.401\\1.4 0.9 0.458\\1.5 0.9 0.478\\1.6 0.9 0.458\\1.7 0.9 0.401\\1.8 0.9 0.302\\1.9 0.9 0.167\\2 0.9 -0.081\\2.1 0.9 -0.211\\2.2 0.9 -0.221\\2.3 0.9 -0.227\\2.4 0.9 -0.232\\2.5 0.9 -0.232\\2.6 0.9 -0.216\\2.7 0.9 -0.185\\2.8 0.9 -0.133\\2.9 0.9 -0.081\\3 0.9 -0.040\\
0 1 -0.040\\0.1 1 -0.083\\0.2 1 -0.137\\0.3 1 -0.191\\0.4 1 -0.224\\0.5 1 -0.240\\0.6 1 -0.240\\0.7 1 -0.234\\0.8 1 -0.229\\0.9 1 -0.218\\1 1 -0.083\\1.1 1 0.176\\1.2 1 0.316\\1.3 1 0.419\\1.4 1 0.478\\1.5 1 0.500\\1.6 1 0.478\\1.7 1 0.419\\1.8 1 0.316\\1.9 1 0.176\\2 1 -0.083\\2.1 1 -0.218\\2.2 1 -0.229\\2.3 1 -0.234\\2.4 1 -0.240\\2.5 1 -0.240\\2.6 1 -0.224\\2.7 1 -0.191\\2.8 1 -0.137\\2.9 1 -0.083\\3 1 -0.040\\
0 1.1 -0.040\\0.1 1.1 -0.081\\0.2 1.1 -0.133\\0.3 1.1 -0.185\\0.4 1.1 -0.216\\0.5 1.1 -0.232\\0.6 1.1 -0.232\\0.7 1.1 -0.227\\0.8 1.1 -0.221\\0.9 1.1 -0.211\\1 1.1 -0.081\\1.1 1.1 0.167\\1.2 1.1 0.302\\1.3 1.1 0.401\\1.4 1.1 0.458\\1.5 1.1 0.478\\1.6 1.1 0.458\\1.7 1.1 0.401\\1.8 1.1 0.302\\1.9 1.1 0.167\\2 1.1 -0.081\\2.1 1.1 -0.211\\2.2 1.1 -0.221\\2.3 1.1 -0.227\\2.4 1.1 -0.232\\2.5 1.1 -0.232\\2.6 1.1 -0.216\\2.7 1.1 -0.185\\2.8 1.1 -0.133\\2.9 1.1 -0.081\\3 1.1 -0.040\\
0 1.2 -0.040\\0.1 1.2 -0.077\\0.2 1.2 -0.123\\0.3 1.2 -0.169\\0.4 1.2 -0.196\\0.5 1.2 -0.210\\0.6 1.2 -0.210\\0.7 1.2 -0.205\\0.8 1.2 -0.201\\0.9 1.2 -0.192\\1 1.2 -0.077\\1.1 1.2 0.144\\1.2 1.2 0.263\\1.3 1.2 0.350\\1.4 1.2 0.401\\1.5 1.2 0.419\\1.6 1.2 0.401\\1.7 1.2 0.350\\1.8 1.2 0.263\\1.9 1.2 0.144\\2 1.2 -0.077\\2.1 1.2 -0.192\\2.2 1.2 -0.201\\2.3 1.2 -0.205\\2.4 1.2 -0.210\\2.5 1.2 -0.210\\2.6 1.2 -0.196\\2.7 1.2 -0.169\\2.8 1.2 -0.123\\2.9 1.2 -0.077\\3 1.2 -0.040\\
0 1.3 -0.040\\0.1 1.3 -0.069\\0.2 1.3 -0.104\\0.3 1.3 -0.140\\0.4 1.3 -0.161\\0.5 1.3 -0.172\\0.6 1.3 -0.172\\0.7 1.3 -0.168\\0.8 1.3 -0.165\\0.9 1.3 -0.158\\1 1.3 -0.069\\1.1 1.3 0.103\\1.2 1.3 0.195\\1.3 1.3 0.263\\1.4 1.3 0.302\\1.5 1.3 0.316\\1.6 1.3 0.302\\1.7 1.3 0.263\\1.8 1.3 0.195\\1.9 1.3 0.103\\2 1.3 -0.069\\2.1 1.3 -0.158\\2.2 1.3 -0.165\\2.3 1.3 -0.168\\2.4 1.3 -0.172\\2.5 1.3 -0.172\\2.6 1.3 -0.161\\2.7 1.3 -0.140\\2.8 1.3 -0.104\\2.9 1.3 -0.069\\3 1.3 -0.040\\
0 1.4 -0.040\\0.1 1.4 -0.057\\0.2 1.4 -0.079\\0.3 1.4 -0.100\\0.4 1.4 -0.113\\0.5 1.4 -0.120\\0.6 1.4 -0.120\\0.7 1.4 -0.118\\0.8 1.4 -0.116\\0.9 1.4 -0.111\\1 1.4 -0.057\\1.1 1.4 0.046\\1.2 1.4 0.103\\1.3 1.4 0.144\\1.4 1.4 0.167\\1.5 1.4 0.176\\1.6 1.4 0.167\\1.7 1.4 0.144\\1.8 1.4 0.103\\1.9 1.4 0.046\\2 1.4 -0.057\\2.1 1.4 -0.111\\2.2 1.4 -0.116\\2.3 1.4 -0.118\\2.4 1.4 -0.120\\2.5 1.4 -0.120\\2.6 1.4 -0.113\\2.7 1.4 -0.100\\2.8 1.4 -0.079\\2.9 1.4 -0.057\\3 1.4 -0.040\\
0 1.5 -0.040\\0.1 1.5 -0.037\\0.2 1.5 -0.032\\0.3 1.5 -0.028\\0.4 1.5 -0.025\\0.5 1.5 -0.024\\0.6 1.5 -0.024\\0.7 1.5 -0.024\\0.8 1.5 -0.025\\0.9 1.5 -0.026\\1 1.5 -0.037\\1.1 1.5 -0.057\\1.2 1.5 -0.069\\1.3 1.5 -0.077\\1.4 1.5 -0.081\\1.5 1.5 -0.083\\1.6 1.5 -0.081\\1.7 1.5 -0.077\\1.8 1.5 -0.069\\1.9 1.5 -0.057\\2 1.5 -0.037\\2.1 1.5 -0.026\\2.2 1.5 -0.025\\2.3 1.5 -0.024\\2.4 1.5 -0.024\\2.5 1.5 -0.024\\2.6 1.5 -0.025\\2.7 1.5 -0.028\\2.8 1.5 -0.032\\2.9 1.5 -0.037\\3 1.5 -0.040\\
0 1.6 -0.040\\0.1 1.6 -0.026\\0.2 1.6 -0.008\\0.3 1.6 0.010\\0.4 1.6 0.021\\0.5 1.6 0.026\\0.6 1.6 0.026\\0.7 1.6 0.024\\0.8 1.6 0.022\\0.9 1.6 0.019\\1 1.6 -0.026\\1.1 1.6 -0.111\\1.2 1.6 -0.158\\1.3 1.6 -0.192\\1.4 1.6 -0.211\\1.5 1.6 -0.218\\1.6 1.6 -0.211\\1.7 1.6 -0.192\\1.8 1.6 -0.158\\1.9 1.6 -0.111\\2 1.6 -0.026\\2.1 1.6 0.019\\2.2 1.6 0.022\\2.3 1.6 0.024\\2.4 1.6 0.026\\2.5 1.6 0.026\\2.6 1.6 0.021\\2.7 1.6 0.010\\2.8 1.6 -0.008\\2.9 1.6 -0.026\\3 1.6 -0.040\\
0 1.7 -0.040\\0.1 1.7 -0.024\\0.2 1.7 -0.004\\0.3 1.7 0.016\\0.4 1.7 0.028\\0.5 1.7 0.034\\0.6 1.7 0.034\\0.7 1.7 0.032\\0.8 1.7 0.030\\0.9 1.7 0.026\\1 1.7 -0.024\\1.1 1.7 -0.120\\1.2 1.7 -0.172\\1.3 1.7 -0.210\\1.4 1.7 -0.232\\1.5 1.7 -0.240\\1.6 1.7 -0.232\\1.7 1.7 -0.210\\1.8 1.7 -0.172\\1.9 1.7 -0.120\\2 1.7 -0.024\\2.1 1.7 0.026\\2.2 1.7 0.030\\2.3 1.7 0.032\\2.4 1.7 0.034\\2.5 1.7 0.034\\2.6 1.7 0.028\\2.7 1.7 0.016\\2.8 1.7 -0.004\\2.9 1.7 -0.024\\3 1.7 -0.040\\
0 1.8 -0.040\\0.1 1.8 -0.024\\0.2 1.8 -0.004\\0.3 1.8 0.016\\0.4 1.8 0.028\\0.5 1.8 0.034\\0.6 1.8 0.034\\0.7 1.8 0.032\\0.8 1.8 0.030\\0.9 1.8 0.026\\1 1.8 -0.024\\1.1 1.8 -0.120\\1.2 1.8 -0.172\\1.3 1.8 -0.210\\1.4 1.8 -0.232\\1.5 1.8 -0.240\\1.6 1.8 -0.232\\1.7 1.8 -0.210\\1.8 1.8 -0.172\\1.9 1.8 -0.120\\2 1.8 -0.024\\2.1 1.8 0.026\\2.2 1.8 0.030\\2.3 1.8 0.032\\2.4 1.8 0.034\\2.5 1.8 0.034\\2.6 1.8 0.028\\2.7 1.8 0.016\\2.8 1.8 -0.004\\2.9 1.8 -0.024\\3 1.8 -0.040\\
0 1.9 -0.040\\0.1 1.9 -0.024\\0.2 1.9 -0.005\\0.3 1.9 0.014\\0.4 1.9 0.026\\0.5 1.9 0.032\\0.6 1.9 0.032\\0.7 1.9 0.030\\0.8 1.9 0.028\\0.9 1.9 0.024\\1 1.9 -0.024\\1.1 1.9 -0.118\\1.2 1.9 -0.168\\1.3 1.9 -0.205\\1.4 1.9 -0.227\\1.5 1.9 -0.234\\1.6 1.9 -0.227\\1.7 1.9 -0.205\\1.8 1.9 -0.168\\1.9 1.9 -0.118\\2 1.9 -0.024\\2.1 1.9 0.024\\2.2 1.9 0.028\\2.3 1.9 0.030\\2.4 1.9 0.032\\2.5 1.9 0.032\\2.6 1.9 0.026\\2.7 1.9 0.014\\2.8 1.9 -0.005\\2.9 1.9 -0.024\\3 1.9 -0.040\\
0 2 -0.040\\0.1 2 -0.026\\0.2 2 -0.008\\0.3 2 0.010\\0.4 2 0.021\\0.5 2 0.026\\0.6 2 0.026\\0.7 2 0.024\\0.8 2 0.022\\0.9 2 0.019\\1 2 -0.026\\1.1 2 -0.111\\1.2 2 -0.158\\1.3 2 -0.192\\1.4 2 -0.211\\1.5 2 -0.218\\1.6 2 -0.211\\1.7 2 -0.192\\1.8 2 -0.158\\1.9 2 -0.111\\2 2 -0.026\\2.1 2 0.019\\2.2 2 0.022\\2.3 2 0.024\\2.4 2 0.026\\2.5 2 0.026\\2.6 2 0.021\\2.7 2 0.010\\2.8 2 -0.008\\2.9 2 -0.026\\3 2 -0.040\\
}\tabC

\pgfplotstableread[row sep=\\]{x y u v\\
0.3 1.5 0.15 0\\0.6 1.5 0.15 0\\0.9 1.5 0.15 0\\1.2 1.5 0.15 0\\1.5 1.5 0.079 0.122\\1.8 1.5 0.15 0\\2.1 1.5 0.15 0\\2.4 1.5 0.15 0\\2.7 1.5 0.15 0\\
0.3 1.2 0.131 -0.073\\0.6 1.2 0.131 -0.073\\0.9 1.2 0.131 -0.073\\1.2 1.2 0.088 0.122\\1.5 1.2 0.079 0.122\\1.8 1.2 0.083 0.122\\2.1 1.2 0.131 -0.07\\2.4 1.2 0.131 -0.07\\2.7 1.2 0.131 -0.07\\
0.3 0.9 0.119 -0.082\\0.6 0.9 0.107 -0.102\\0.9 0.9 0.04 -0.14\\1.2 0.9 0.012 0.144\\1.8 0.9 0.043 0.133\\2.1 0.9 0.036 -0.14\\2.4 0.9 0.107 -0.102\\2.7 0.9 0.119 -0.082\\
0.3 0.6 0.095 -0.111\\0.6 0.6 0.048 -0.133\\0.9 0.6 0.005 -0.156\\1.2 0.6 0.014 0.144\\1.8 0.6 0.014 0.144\\2.1 0.6 0.007 -0.156\\2.4 0.6 0.052 -0.133\\2.7 0.6 0.095 -0.111\\
0.3 0.3 0.1 0.1\\0.6 0.3 0.083 0.116\\0.9 0.3 0.017 0.144\\1.2 0.3 0.019 -0.133\\1.5 0.3 0.019 -0.14\\1.8 0.3 0.019 -0.122\\2.1 0.3 0.017 0.144\\2.4 0.3 0.083 0.116\\2.7 0.3 0.107 0.1\\
}\tabQ

\begin{document}
\begin{tikzpicture}[x=1pt,y=1pt]
\path[use as bounding box] (0,0) rectangle (1285,823);

% ---------- (a) ----------
\begin{axis}[panel, at={(402pt,452pt)}, anchor=south west, width=453pt, height=299pt,
  colormap name=hotm, point meta min=0, point meta max=1.44]
\addplot[surfstyle] table[x=x,y=y,meta=z]{\tabA};
% outer contour lines
\addplot[clo] coordinates {(0.43,0)(0.379,0.1)(0.352,0.2)(0.335,0.3)(0.327,0.4)(0.323,0.5)(0.27,0.6)(0.225,0.7)(0.225,1.4)(0.229,1.5)(0.284,1.6)(0.349,1.7)(0.474,1.8)(0.51,1.9)(0.557,2.0)};
\addplot[clo] coordinates {(2.57,0)(2.621,0.1)(2.648,0.2)(2.665,0.3)(2.673,0.4)(2.677,0.5)(2.73,0.6)(2.775,0.7)(2.775,1.4)(2.771,1.5)(2.716,1.6)(2.651,1.7)(2.526,1.8)(2.49,1.9)(2.443,2.0)};
\addplot[clo] coordinates {(0.982,0)(0.9,0.015)(0.8,0.037)(0.7,0.063)(0.618,0.1)(0.523,0.2)(0.478,0.3)(0.461,0.4)(0.451,0.5)(0.405,0.6)(0.356,0.7)(0.357,1.4)(0.366,1.5)(0.44,1.6)(0.516,1.7)(0.705,1.8)(0.9,1.9)(1.028,2.0)};
\addplot[clo] coordinates {(2.018,0)(2.1,0.015)(2.2,0.037)(2.3,0.063)(2.382,0.1)(2.477,0.2)(2.522,0.3)(2.539,0.4)(2.549,0.5)(2.595,0.6)(2.644,0.7)(2.643,1.4)(2.634,1.5)(2.56,1.6)(2.484,1.7)(2.295,1.8)(2.1,1.9)(1.972,2.0)};
\addplot[clo] coordinates {(1.252,2.0)(1.186,1.9)(1.102,1.8)(0.977,1.7)(0.831,1.6)(0.664,1.5)(0.596,1.4)(0.596,1.3)(0.596,1.2)(0.589,1.1)(0.577,1.0)(0.569,0.9)(0.562,0.8)(0.557,0.7)(0.595,0.6)(0.622,0.5)(0.656,0.4)(0.719,0.3)(0.873,0.2)(1.114,0.1)(1.2,0.073)(1.3,0.05)(1.4,0.036)(1.5,0.031)(1.6,0.036)(1.7,0.05)(1.8,0.073)(1.886,0.1)(2.127,0.2)(2.281,0.3)(2.344,0.4)(2.378,0.5)(2.405,0.6)(2.443,0.7)(2.438,0.8)(2.431,0.9)(2.423,1.0)(2.411,1.1)(2.404,1.2)(2.404,1.3)(2.404,1.4)(2.336,1.5)(2.169,1.6)(2.023,1.7)(1.898,1.8)(1.814,1.9)(1.748,2.0)};
\addplot[clo] coordinates {(0.9,0.965)(0.924,1.0)(0.943,1.1)(0.9,1.179)(0.812,1.1)(0.835,1.0)(0.9,0.965)};
\addplot[clo] coordinates {(2.1,0.965)(2.076,1.0)(2.057,1.1)(2.1,1.179)(2.188,1.1)(2.165,1.0)(2.1,0.965)};
% inner contour lines
\addplot[cl] coordinates {(1.5,0.113)(1.4,0.119)(1.3,0.137)(1.2,0.17)(1.135,0.2)(0.972,0.3)(0.881,0.4)(0.824,0.5)(0.814,0.6)(0.805,0.7)(0.81,0.8)(0.86,0.9)(0.964,1.0)(0.987,1.1)(0.986,1.2)(1.015,1.3)(1.045,1.4)(1.082,1.5)(1.126,1.6)(1.19,1.7)(1.273,1.8)(1.371,1.9)(1.438,1.95)(1.5,1.977)(1.562,1.95)(1.629,1.9)(1.727,1.8)(1.81,1.7)(1.874,1.6)(1.918,1.5)(1.955,1.4)(1.985,1.3)(2.014,1.2)(2.013,1.1)(2.036,1.0)(2.14,0.9)(2.19,0.8)(2.195,0.7)(2.186,0.6)(2.176,0.5)(2.119,0.4)(2.028,0.3)(1.865,0.2)(1.8,0.17)(1.7,0.137)(1.6,0.119)(1.5,0.113)};
\addplot[cl] coordinates {(1.5,0.182)(1.4,0.191)(1.362,0.2)(1.209,0.25)(1.125,0.3)(1.019,0.4)(0.951,0.5)(0.932,0.6)(0.923,0.7)(0.925,0.8)(0.958,0.9)(1.004,1.0)(1.043,1.1)(1.082,1.2)(1.121,1.3)(1.159,1.4)(1.201,1.5)(1.252,1.6)(1.333,1.7)(1.39,1.75)(1.5,1.788)(1.61,1.75)(1.667,1.7)(1.748,1.6)(1.799,1.5)(1.841,1.4)(1.879,1.3)(1.918,1.2)(1.957,1.1)(1.996,1.0)(2.042,0.9)(2.075,0.8)(2.077,0.7)(2.068,0.6)(2.049,0.5)(1.981,0.4)(1.875,0.3)(1.791,0.25)(1.638,0.2)(1.6,0.191)(1.5,0.182)};
\addplot[cl] coordinates {(1.5,0.242)(1.415,0.25)(1.317,0.275)(1.259,0.3)(1.121,0.4)(1.042,0.5)(1.016,0.6)(1.002,0.7)(1.003,0.8)(1.023,0.9)(1.058,1.0)(1.103,1.1)(1.15,1.2)(1.195,1.3)(1.241,1.4)(1.293,1.5)(1.376,1.6)(1.5,1.659)(1.624,1.6)(1.707,1.5)(1.759,1.4)(1.805,1.3)(1.85,1.2)(1.897,1.1)(1.942,1.0)(1.977,0.9)(1.997,0.8)(1.998,0.7)(1.984,0.6)(1.958,0.5)(1.879,0.4)(1.741,0.3)(1.683,0.275)(1.585,0.25)(1.5,0.242)};
\addplot[cl] coordinates {(1.5,0.299)(1.4,0.31)(1.352,0.325)(1.289,0.35)(1.214,0.4)(1.119,0.5)(1.082,0.6)(1.061,0.7)(1.06,0.8)(1.082,0.9)(1.11,1.0)(1.156,1.1)(1.209,1.2)(1.257,1.3)(1.318,1.4)(1.399,1.5)(1.5,1.542)(1.601,1.5)(1.682,1.4)(1.743,1.3)(1.791,1.2)(1.844,1.1)(1.89,1.0)(1.918,0.9)(1.94,0.8)(1.939,0.7)(1.918,0.6)(1.881,0.5)(1.786,0.4)(1.711,0.35)(1.648,0.325)(1.6,0.31)(1.5,0.299)};
\addplot[cl] coordinates {(1.5,0.351)(1.372,0.375)(1.313,0.4)(1.189,0.5)(1.14,0.6)(1.116,0.7)(1.113,0.8)(1.132,0.9)(1.159,1.0)(1.208,1.1)(1.261,1.2)(1.321,1.3)(1.406,1.4)(1.5,1.442)(1.594,1.4)(1.679,1.3)(1.739,1.2)(1.792,1.1)(1.841,1.0)(1.868,0.9)(1.887,0.8)(1.884,0.7)(1.86,0.6)(1.811,0.5)(1.687,0.4)(1.628,0.375)(1.5,0.351)};
\addplot[cl] coordinates {(1.5,0.404)(1.396,0.42)(1.332,0.45)(1.261,0.5)(1.196,0.6)(1.165,0.7)(1.159,0.8)(1.179,0.9)(1.207,1.0)(1.256,1.1)(1.315,1.2)(1.391,1.3)(1.442,1.33)(1.5,1.355)(1.558,1.33)(1.609,1.3)(1.685,1.2)(1.744,1.1)(1.793,1.0)(1.821,0.9)(1.841,0.8)(1.835,0.7)(1.804,0.6)(1.739,0.5)(1.668,0.45)(1.604,0.42)(1.5,0.404)};
\addplot[cl] coordinates {(1.5,0.454)(1.394,0.475)(1.346,0.5)(1.253,0.6)(1.214,0.7)(1.206,0.8)(1.226,0.9)(1.254,1.0)(1.304,1.1)(1.377,1.2)(1.442,1.25)(1.5,1.276)(1.558,1.25)(1.623,1.2)(1.696,1.1)(1.746,1.0)(1.774,0.9)(1.794,0.8)(1.786,0.7)(1.747,0.6)(1.654,0.5)(1.606,0.475)(1.5,0.454)};
\addplot[cl] coordinates {(1.5,0.506)(1.372,0.55)(1.314,0.6)(1.264,0.7)(1.253,0.8)(1.273,0.9)(1.3,1.0)(1.364,1.1)(1.401,1.15)(1.5,1.202)(1.599,1.15)(1.636,1.1)(1.7,1.0)(1.727,0.9)(1.747,0.8)(1.736,0.7)(1.686,0.6)(1.628,0.55)(1.5,0.506)};
\addplot[cl] coordinates {(1.5,0.565)(1.392,0.6)(1.318,0.7)(1.3,0.8)(1.325,0.9)(1.36,1.0)(1.392,1.05)(1.46,1.1)(1.5,1.121)(1.54,1.1)(1.608,1.05)(1.64,1.0)(1.675,0.9)(1.7,0.8)(1.682,0.7)(1.608,0.6)(1.5,0.565)};
\addplot[cl] coordinates {(1.5,0.635)(1.444,0.66)(1.385,0.7)(1.362,0.8)(1.386,0.9)(1.454,1.0)(1.5,1.028)(1.546,1.0)(1.614,0.9)(1.638,0.8)(1.615,0.7)(1.556,0.66)(1.5,0.635)};
\addplot[quiver={u=\thisrow{u},v=\thisrow{v}}, -{Latex[length=5pt,width=5pt]}, white, line width=2pt] table[x=x,y=y]{\tabQ};
\end{axis}
% colorbar (a)
\begin{axis}[cbax, at={(868pt,452pt)}, width=25pt, ymin=0, ymax=1.44,
  ytick={0.2,0.4,0.6,0.8,1,1.2}, colormap name=hotm, point meta min=0, point meta max=1.44,
  ylabel={von Mises Stress σ\textsubscript{vm} (MPa)}]
\addplot[cbsurf] coordinates {(0,0) [0] (1,0) [0] (0,1.44) [1.44] (1,1.44) [1.44]};
\end{axis}

% ---------- (b) ----------
\begin{axis}[panel, at={(59pt,44pt)}, anchor=south west,
  colormap name=bwsplit, point meta min=-1, point meta max=1]
\addplot[surfstyle] table[x=x,y=y,meta=z]{\tabB};
\end{axis}
\begin{axis}[cbax, at={(525pt,44pt)}, width=28pt, ymin=-1, ymax=1,
  ytick={-1,-0.8,-0.6,-0.4,-0.2,0,0.2,0.4,0.6,0.8,1}, colormap name=bwsplit, point meta min=-1, point meta max=1]
\addplot[cbsurf] coordinates {(0,-1) [-1] (1,-1) [-1] (0,1) [1] (1,1) [1]};
\end{axis}

% ---------- (c) ----------
\begin{axis}[panel, at={(757pt,44pt)}, anchor=south west,
  colormap name=bwsplit, point meta min=-0.5, point meta max=0.5]
\addplot[surfstyle] table[x=x,y=y,meta=z]{\tabC};
\end{axis}
\begin{axis}[cbax, at={(1223pt,44pt)}, width=28pt, ymin=-0.5, ymax=0.5,
  ytick={-0.5,-0.4,-0.3,-0.2,-0.1,0,0.1,0.2,0.3,0.4,0.5}, colormap name=bwsplit, point meta min=-0.5, point meta max=0.5]
\addplot[cbsurf] coordinates {(0,-0.5) [-0.5] (1,-0.5) [-0.5] (0,0.5) [0.5] (1,0.5) [0.5]};
\end{axis}

% ---------- titles ----------
\node[draw=titleframe, line width=2.4pt, fill=titlebg, minimum width=381pt, minimum height=48pt, inner sep=0pt] at (631.5,787) {};
\node[anchor=base, font=\titlefont\bfseries\fontsize{33}{36}\selectfont, text=black!90] at (631.5,776) {Stress distribution};
\node[anchor=base, font=\titlefont\bfseries\fontsize{30}{34}\selectfont] at (349,795) {(a)};

\node[draw=titleframe, line width=2.4pt, fill=titlebg, minimum width=379pt, minimum height=65pt, inner sep=0pt] at (295.5,380.5) {};
\node[anchor=base, font=\titlefont\bfseries\fontsize{33}{36}\selectfont, text=black!90] at (295.5,390) {Normal stress};
\node[anchor=base, font=\titlefont\bfseries\fontsize{33}{36}\selectfont, text=black!90] at (295.5,356) {component};
\node[anchor=base, font=\titlefont\bfseries\fontsize{31}{34}\selectfont] at (54,378) {(b)};

\node[draw=titleframe, line width=2.4pt, fill=titlebg, minimum width=381pt, minimum height=46pt, inner sep=0pt] at (980.5,373) {};
\node[anchor=base, font=\titlefont\bfseries\fontsize{33}{36}\selectfont, text=black!90] at (980.5,363) {Shear stress component};
\node[anchor=base, font=\titlefont\bfseries\fontsize{31}{34}\selectfont] at (732,378) {(c)};
\end{tikzpicture}
\end{document}
